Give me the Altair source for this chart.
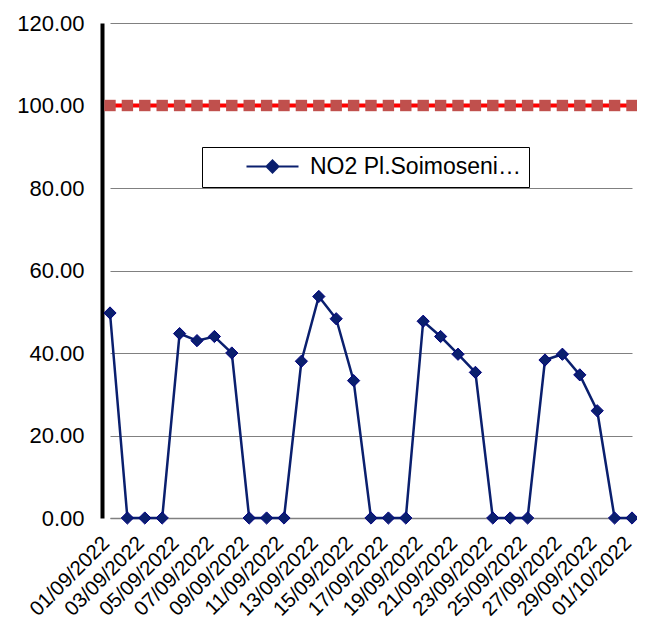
import altair as alt
import pandas as pd

dates = ["01/09/2022", "02/09/2022", "03/09/2022", "04/09/2022", "05/09/2022",
         "06/09/2022", "07/09/2022", "08/09/2022", "09/09/2022", "10/09/2022",
         "11/09/2022", "12/09/2022", "13/09/2022", "14/09/2022", "15/09/2022",
         "16/09/2022", "17/09/2022", "18/09/2022", "19/09/2022", "20/09/2022",
         "21/09/2022", "22/09/2022", "23/09/2022", "24/09/2022", "25/09/2022",
         "26/09/2022", "27/09/2022", "28/09/2022", "29/09/2022", "30/09/2022",
         "01/10/2022"]
no2 = [49.7, 0, 0, 0, 44.7, 43.0, 44.0, 40.0, 0, 0,
       0, 38.0, 53.7, 48.3, 33.3, 0, 0, 0, 47.7, 44.0,
       39.7, 35.3, 0, 0, 0, 38.3, 39.7, 34.7, 26.0, 0,
       0]
limit = [100.0] * 31
label_dates = dates[::2]
y_ticks = [0, 20, 40, 60, 80, 100, 120]
series_name = "NO2 Pl.Soimoseni…"

df = pd.DataFrame({"date": dates, "value": no2, "series": series_name})
lim = pd.DataFrame({"date": dates, "limit": limit})

FONT = "Liberation Sans"
FS = 22

xscale = alt.Scale(type="point", range=[8, 530], padding=0)
xaxis = alt.Axis(values=label_dates, labelAngle=-45, labelAlign="right",
                 labelBaseline="alphabetic", labelFontSize=20.5, labelFont=FONT,
                 labelColor="black", labelPadding=26, ticks=False,
                 domainColor="#808080", domainWidth=1.5, grid=False, title=None,
                 labelOverlap=False)
yscale = alt.Scale(domain=[0, 120], nice=False)
yaxis = alt.Axis(values=y_ticks, format=".2f", labelFontSize=FS, labelFont=FONT,
                 labelColor="black", labelPadding=18, ticks=False,
                 domainColor="black", domainWidth=4, gridColor="#808080",
                 gridWidth=1, title=None)

limit_line = alt.Chart(lim).mark_line(color="#FF0000", strokeWidth=4).encode(
    x=alt.X("date:O", sort=dates, scale=xscale, axis=xaxis),
    y=alt.Y("limit:Q", scale=yscale, axis=yaxis),
)
limit_pts = alt.Chart(lim).mark_square(color="#C0504D", size=130, opacity=1).encode(
    x=alt.X("date:O", sort=dates, scale=xscale),
    y=alt.Y("limit:Q", scale=yscale),
)

legend = alt.Legend(
    title=None, orient="none", legendX=100, legendY=124,
    symbolType="M-2.6,0L2.6,0M0,-0.6L0.6,0L0,0.6L-0.6,0Z",
    symbolSize=400, symbolStrokeWidth=2, symbolOffset=51,
    symbolFillColor="#0A1F6E", symbolStrokeColor="#0A1F6E",
    labelFontSize=23, labelFont=FONT, labelColor="black", labelOffset=26,
    strokeColor="black", fillColor="white", padding=8, labelLimit=400,
)
line = alt.Chart(df).mark_line(strokeWidth=2.5, color="#0A1F6E").encode(
    x=alt.X("date:O", sort=dates, scale=xscale),
    y=alt.Y("value:Q", scale=yscale),
    color=alt.Color("series:N", scale=alt.Scale(range=["#0A1F6E"]), legend=legend),
)
pts = alt.Chart(df).mark_point(shape="diamond", size=150, filled=True,
                               fill="#0A1F6E", stroke="#000080", strokeWidth=1,
                               opacity=1).encode(
    x=alt.X("date:O", sort=dates, scale=xscale),
    y=alt.Y("value:Q", scale=yscale),
)

chart = alt.layer(limit_line, limit_pts, line, pts).properties(
    width=535, height=495,
    padding={"left": 94, "top": 15, "right": 0, "bottom": 102},
    autosize=alt.AutoSizeParams(type="none"),
    background="white",
).configure_view(stroke=None)

chart.save("out.html", embed_options={"renderer": "svg", "actions": False})
